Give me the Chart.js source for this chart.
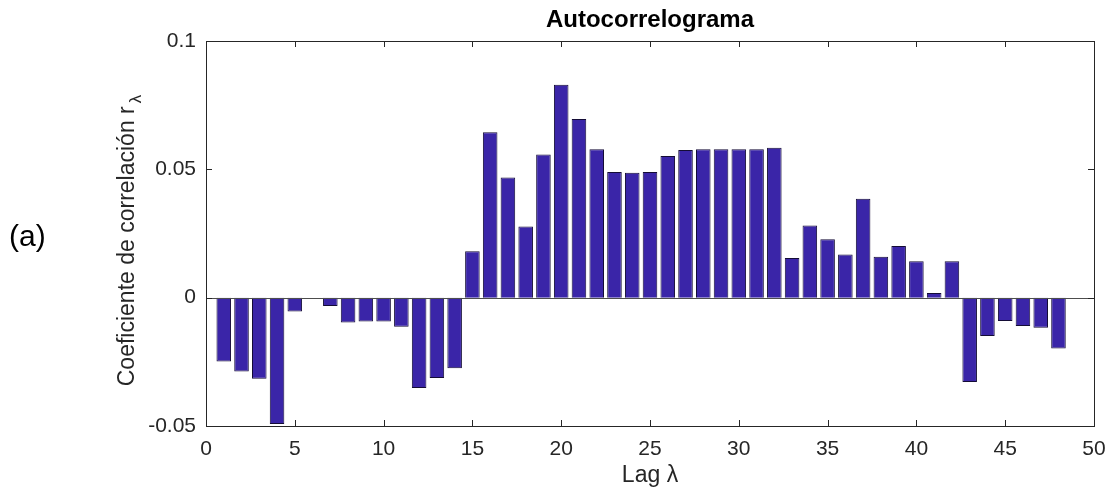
<!DOCTYPE html>
<html>
<head>
<meta charset="utf-8">
<script src="https://cdn.jsdelivr.net/npm/chart.js@4"></script>
<style>
  html, body { margin: 0; padding: 0; background: #fff; }
  #wrap { width: 1111px; height: 492px; }
</style>
</head>
<body>
<div id="wrap"><canvas id="acf" width="1111" height="492"></canvas></div>
<script>
// lags 1..48 and autocorrelation coefficients
const lags = [1, 2, 3, 4, 5, 6, 7, 8, 9, 10, 11, 12, 13, 14, 15, 16,
    17, 18, 19, 20, 21, 22, 23, 24, 25, 26, 27, 28, 29, 30, 31, 32,
    33, 34, 35, 36, 37, 38, 39, 40, 41, 42, 43, 44, 45, 46, 47, 48];
const coefs = [-0.0249, -0.0288, -0.0316, -0.0492, -0.0054, 0, -0.0032, -0.0097, -0.0093, -0.0093, -0.0113, -0.0352, -0.0313, -0.0275, 0.0181, 0.0644,
    0.0468, 0.0277, 0.0558, 0.0830, 0.0696, 0.0578, 0.0490, 0.0487, 0.0490, 0.0552, 0.0575, 0.0578, 0.0578, 0.0578, 0.0578, 0.0584,
    0.0155, 0.0281, 0.0228, 0.0168, 0.0385, 0.0159, 0.0201, 0.0142, 0.0018, 0.0142, -0.0329, -0.0149, -0.0091, -0.0110, -0.0117, -0.0198];
const xTicks = [0, 5, 10, 15, 20, 25, 30, 35, 40, 45, 50];
const yTicks = [-0.05, 0, 0.05, 0.1];

const FONT = '"Liberation Sans", Arial, Helvetica, sans-serif';
const INK = '#262626';

// box, inward ticks on all four sides, zero line and the extra texts
const matlabAxes = {
    id: 'matlabAxes',
    afterDatasetsDraw(chart) {
        const { ctx, chartArea: a, scales: { x, y } } = chart;
        ctx.save();
        ctx.strokeStyle = '#4d4d4d';
        ctx.lineWidth = 1;
        const y0 = Math.round(y.getPixelForValue(0)) + 0.5;
        ctx.beginPath();
        ctx.moveTo(a.left, y0);
        ctx.lineTo(a.right, y0);
        ctx.stroke();
        ctx.strokeStyle = '#262626';
        ctx.strokeRect(Math.round(a.left) + 0.5, Math.round(a.top) + 0.5,
            Math.round(a.right - a.left), Math.round(a.bottom - a.top));
        const t = 6;
        ctx.beginPath();
        xTicks.forEach(v => {
            const px = Math.round(x.getPixelForValue(v)) + 0.5;
            ctx.moveTo(px, a.bottom); ctx.lineTo(px, a.bottom - t);
            ctx.moveTo(px, a.top); ctx.lineTo(px, a.top + t);
        });
        yTicks.forEach(v => {
            const py = Math.round(y.getPixelForValue(v)) + 0.5;
            ctx.moveTo(a.left, py); ctx.lineTo(a.left + t, py);
            ctx.moveTo(a.right, py); ctx.lineTo(a.right - t, py);
        });
        ctx.stroke();

        // title
        ctx.fillStyle = '#000';
        ctx.font = 'bold 24px ' + FONT;
        ctx.textAlign = 'center';
        ctx.textBaseline = 'alphabetic';
        ctx.fillText('Autocorrelograma', (a.left + a.right) / 2, 27);

        // y axis label with subscript lambda
        ctx.fillStyle = INK;
        ctx.translate(134, 242);
        ctx.rotate(-Math.PI / 2);
        const main = 'Coeficiente de correlación r';
        ctx.font = '23px ' + FONT;
        const w1 = ctx.measureText(main).width;
        ctx.font = '17px ' + FONT;
        const w2 = ctx.measureText('λ').width;
        const start = -(w1 + w2) / 2;
        ctx.textAlign = 'left';
        ctx.font = '23px ' + FONT;
        ctx.fillText(main, start, 0);
        ctx.font = '17px ' + FONT;
        ctx.fillText('λ', start + w1 + 3, 7);
        ctx.restore();

        ctx.save();
        ctx.fillStyle = '#000';
        ctx.font = '30px ' + FONT;
        ctx.textAlign = 'left';
        ctx.textBaseline = 'middle';
        ctx.fillText('(a)', 9, 238);
        ctx.restore();
    }
};

new Chart(document.getElementById('acf'), {
    type: 'bar',
    data: {
        datasets: [{
            data: lags.map((l, i) => ({ x: l, y: coefs[i] })),
            backgroundColor: '#3a25a8',
            borderColor: '#140c36',
            borderWidth: 1,
            barPercentage: 0.82,
            categoryPercentage: 1.0
        }]
    },
    options: {
        responsive: false,
        animation: false,
        layout: { padding: { top: 41, right: 17, left: 0, bottom: 0 } },
        plugins: {
            legend: { display: false },
            tooltip: { enabled: false }
        },
        scales: {
            x: {
                type: 'linear',
                min: 0,
                max: 50,
                offset: false,
                grid: { display: false, drawTicks: false },
                border: { display: false },
                afterBuildTicks: s => { s.ticks = xTicks.map(v => ({ value: v })); },
                afterFit: s => { s.height = 66; s.paddingLeft = 0; s.paddingRight = 0; },
                ticks: {
                    padding: 11,
                    maxRotation: 0,
                    color: INK,
                    font: { family: FONT, size: 21 }
                },
                title: {
                    display: true,
                    text: 'Lag λ',
                    color: INK,
                    font: { family: FONT, size: 23 },
                    padding: { top: 0, bottom: 3 }
                }
            },
            y: {
                min: -0.05,
                max: 0.1,
                grid: { display: false, drawTicks: false },
                border: { display: false },
                afterBuildTicks: s => { s.ticks = yTicks.map(v => ({ value: v })); },
                afterFit: s => { s.width = 206; s.paddingTop = 0; s.paddingBottom = 0; },
                ticks: {
                    padding: 10,
                    color: INK,
                    font: { family: FONT, size: 21 },
                    callback: v => String(Math.round(v * 100) / 100)
                }
            }
        }
    },
    plugins: [matlabAxes]
});
</script>
</body>
</html>
